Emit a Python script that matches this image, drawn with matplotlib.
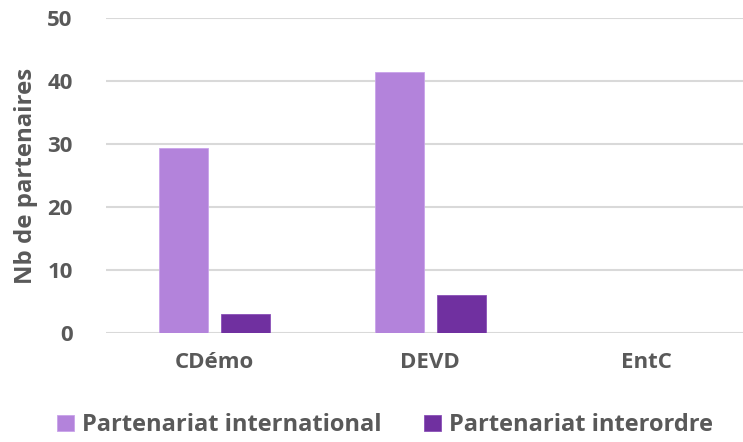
import numpy as np
import matplotlib.pyplot as plt

# partner counts per lab
categories = ['CDémo', 'DEVD', 'EntC']
international = [29.4, 41.4, 0]
interordre = [3, 6, 0]
series_names = ['Partenariat international', 'Partenariat interordre']
yticks = [0, 10, 20, 30, 40, 50]

grey = '#595959'
plt.rcParams['font.family'] = ['Open Sans', 'DejaVu Sans']
plt.rcParams['font.weight'] = 'bold'

fig = plt.figure(figsize=(7.43, 4.42), dpi=100)
# axes runs past the right edge of the figure
ax = fig.add_axes([106 / 743, 109 / 442, 648 / 743, 315 / 442])

x = np.arange(len(categories))
w = 0.226
ax.bar(x - 0.142, international, w, color='#B383DB', edgecolor='#C9A3EA', linewidth=0.6,
       label=series_names[0], zorder=3)
ax.bar(x + 0.145, interordre, w, color='#7030A0', edgecolor='#8A50B8', linewidth=0.6,
       label=series_names[1], zorder=3)

ax.set_xlim(-0.5, 2.5)
ax.set_ylim(0, 50)
ax.set_yticks(yticks)
ax.set_xticks(x)
ax.set_xticklabels(categories)
ax.grid(axis='y', color='#D9D9D9', linewidth=1.5, zorder=0)
ax.set_axisbelow(True)
for s in ax.spines.values():
    s.set_visible(False)
ax.tick_params(length=0, labelsize=16, labelcolor=grey)
ax.tick_params(axis='y', pad=24)
ax.tick_params(axis='x', pad=14)
for lbl in ax.get_xticklabels() + ax.get_yticklabels():
    lbl.set_fontweight('bold')

ax.set_ylabel('Nb de partenaires', fontsize=17.3, color=grey, fontweight='bold', labelpad=7)

fig.legend(loc='center', bbox_to_anchor=(0.518, 0.038), ncol=2, frameon=False,
           handlelength=0.72, handleheight=0.72, handletextpad=0.34, columnspacing=1.78,
           prop={'size': 17, 'weight': 'bold'}, labelcolor=grey)

fig.savefig('out.png', dpi=100)
